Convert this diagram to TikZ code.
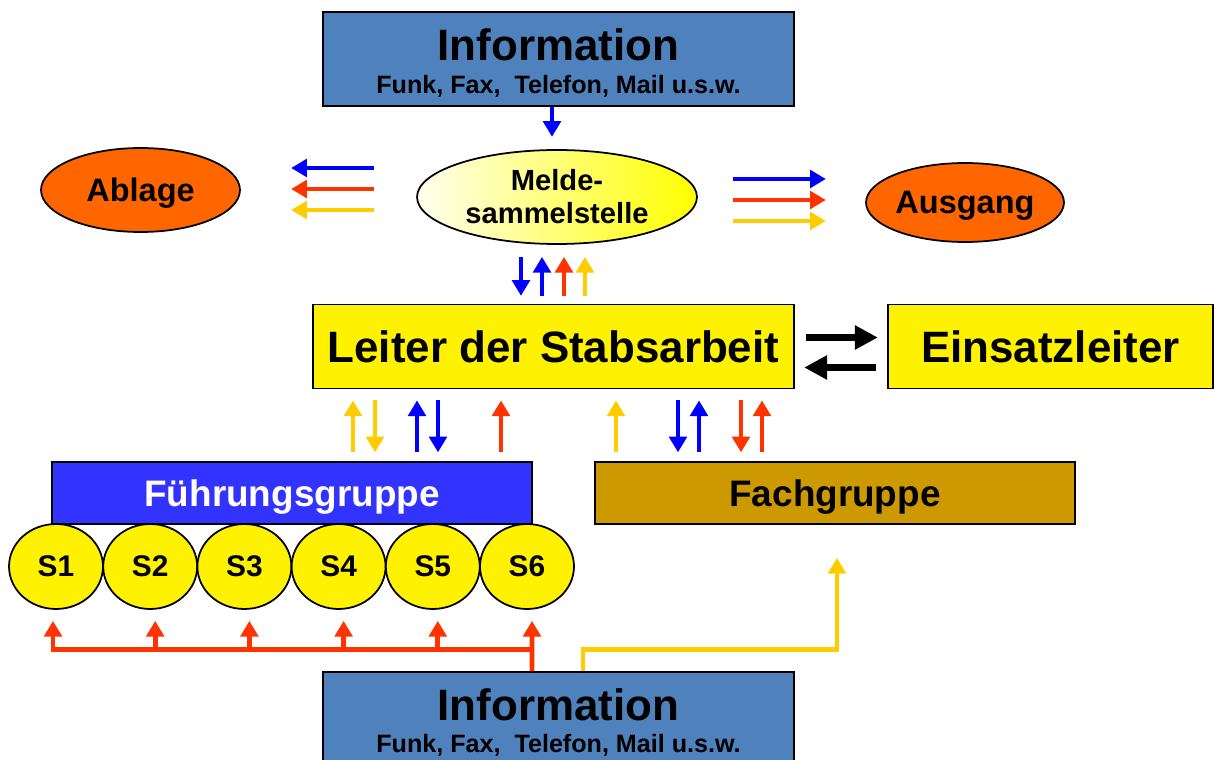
\documentclass[tikz,border=0pt]{standalone}
\usepackage{fontspec}
\setmainfont{Liberation Sans}
\usetikzlibrary{shapes.geometric,arrows.meta,calc}
\definecolor{infoblue}{HTML}{4F81BD}
\definecolor{fgblue}{HTML}{3333FF}
\definecolor{fachbrown}{HTML}{CC9900}
\definecolor{outorange}{HTML}{FF6600}
\definecolor{flowblue}{HTML}{0000FF}
\definecolor{flowred}{HTML}{FF3300}
\definecolor{flowgold}{HTML}{FFCC00}
\begin{document}
\begin{tikzpicture}[x=0.02cm,y=-0.02cm,
    box/.style={draw=black,line width=1pt,inner sep=0pt,font=\bfseries},
    infobox/.style={box,fill=infoblue,minimum width=9.42cm,minimum height=1.88cm},
    infotitle/.style={inner sep=0pt,font=\bfseries\fontsize{25}{30}\selectfont},
    infosub/.style={inner sep=0pt,font=\bfseries\fontsize{14.3}{17}\selectfont},
    yellowbox/.style={box,fill=yellow,minimum height=1.68cm,text depth=0pt,font=\bfseries\fontsize{25}{30}\selectfont},
    groupbox/.style={box,minimum width=9.6cm,minimum height=1.24cm,text depth=0pt,font=\bfseries\fontsize{21}{25}\selectfont},
    oval/.style={box,ellipse,fill=outorange,text depth=0pt,font=\bfseries\fontsize{18.5}{22}\selectfont},
    sbubble/.style={box,ellipse,fill=yellow,minimum width=1.88cm,minimum height=1.7cm,font=\bfseries\fontsize{17}{20}\selectfont},
    flow/.style={line width=2.8pt,-{Triangle[length=9pt,width=10pt]}},
    blueflow/.style={flow,flowblue},
    redflow/.style={flow,flowred},
    goldflow/.style={flow,flowgold},
    blackflow/.style={line width=4.5pt,-{Triangle[length=13pt,width=13pt]}}]
  \useasboundingbox (0,0) rectangle (1214,760);

  % boxes
  \node[infobox] (infotop) at (558.5,59) {};
  \node[infotitle] (infotoptitle) at (558.5,45) {Information};
  \node[infosub] (infotopsub) at (558.5,86) {Funk, Fax,~ Telefon, Mail u.s.w.};
  \node[box,ellipse,left color=yellow!6,right color=yellow,minimum width=5.6cm,minimum height=1.88cm,
    align=center,font=\bfseries\fontsize{16.6}{18.7}\selectfont] (melde) at (557,197) {Melde-\\sammelstelle};
  \node[oval,minimum width=3.98cm,minimum height=1.68cm] (ablage) at (140.5,190) {Ablage};
  \node[oval,minimum width=3.96cm,minimum height=1.58cm] (ausgang) at (965,202.5) {Ausgang};
  \node[yellowbox,minimum width=9.62cm] (leiter) at (553.5,346.5) {Leiter der Stabsarbeit};
  \node[yellowbox,minimum width=6.5cm] (einsatz) at (1050.5,346.5) {Einsatzleiter};
  \node[groupbox,fill=fgblue,text=white] (fuehrung) at (292,493) {Führungsgruppe};
  \node[groupbox,fill=fachbrown] (fach) at (835,493) {Fachgruppe};
  \foreach \i in {1,...,6}
    \node[sbubble] (s\i) at ({56+94.2*(\i-1)},566.5) {S\i};
  \node[infobox] (infobot) at (558.5,719) {};
  \node[infotitle] (infobottitle) at (558.5,705) {Information};
  \node[infosub] (infobotsub) at (558.5,745) {Funk, Fax,~ Telefon, Mail u.s.w.};

  % Meldesammelstelle
  \draw[blueflow] ($(infotop.south)+(-6.5,0)$) -- ++(0,30);
  \draw[blueflow] ($(melde.west)+(-42,-29)$) -- ++(-83,0);
  \draw[redflow] ($(melde.west)+(-42,-8)$) -- ++(-83,0);
  \draw[goldflow] ($(melde.west)+(-42,13)$) -- ++(-83,0);
  \draw[blueflow] ($(melde.east)+(35,-18)$) -- ++(93,0);
  \draw[redflow] ($(melde.east)+(35,3)$) -- ++(93,0);
  \draw[goldflow] ($(melde.east)+(35,24)$) -- ++(93,0);
  \draw[blueflow] ($(melde.south)+(-36,12)$) -- ++(0,39);
  \draw[blueflow] ($(melde.south)+(-15,51)$) -- ++(0,-39);
  \draw[redflow] ($(melde.south)+(7,51)$) -- ++(0,-39);
  \draw[goldflow] ($(melde.south)+(28,51)$) -- ++(0,-39);

  % Leiter <-> Einsatzleiter
  \draw[blackflow] ($(leiter.east)+(11,-9)$) -- ++(72,0);
  \draw[blackflow] ($(einsatz.west)+(-11,21)$) -- ++(-72,0);

  % Leiter <-> Gruppen
  \draw[goldflow] ($(leiter.south)+(-200.5,63)$) -- ++(0,-52);
  \draw[goldflow] ($(leiter.south)+(-178.5,11)$) -- ++(0,52);
  \draw[blueflow] ($(leiter.south)+(-136.5,63)$) -- ++(0,-52);
  \draw[blueflow] ($(leiter.south)+(-115.5,11)$) -- ++(0,52);
  \draw[redflow] ($(leiter.south)+(-52.5,63)$) -- ++(0,-52);
  \draw[goldflow] ($(leiter.south)+(62.5,63)$) -- ++(0,-52);
  \draw[blueflow] ($(leiter.south)+(124.5,11)$) -- ++(0,52);
  \draw[blueflow] ($(leiter.south)+(145.5,63)$) -- ++(0,-52);
  \draw[redflow] ($(leiter.south)+(187.5,11)$) -- ++(0,52);
  \draw[redflow] ($(leiter.south)+(208.5,63)$) -- ++(0,-52);

  % Information unten
  \coordinate (bus) at ($(infobot.north)+(0,-22)$);
  \draw[flowred,line width=2.8pt,line cap=rect] ($(s1.south |- bus)+(-3,0)$) -- ($(s6.south |- bus)+(5,0)$);
  \draw[redflow] ($(infobot.north)+(-26.5,0)$) -- ($(s6.south)+(5,11)$);
  \draw[redflow] ($(s1.south |- bus)+(-3,0)$) -- ($(s1.south)+(-3,11)$);
  \foreach \i in {2,...,5}
    \draw[redflow] ($(s\i.south |- bus)+(5,0)$) -- ($(s\i.south)+(5,11)$);
  \draw[goldflow] ($(infobot.north)+(24.5,0)$) -- ++(0,-22) -| ($(fach.south)+(2,33)$);
\end{tikzpicture}
\end{document}
